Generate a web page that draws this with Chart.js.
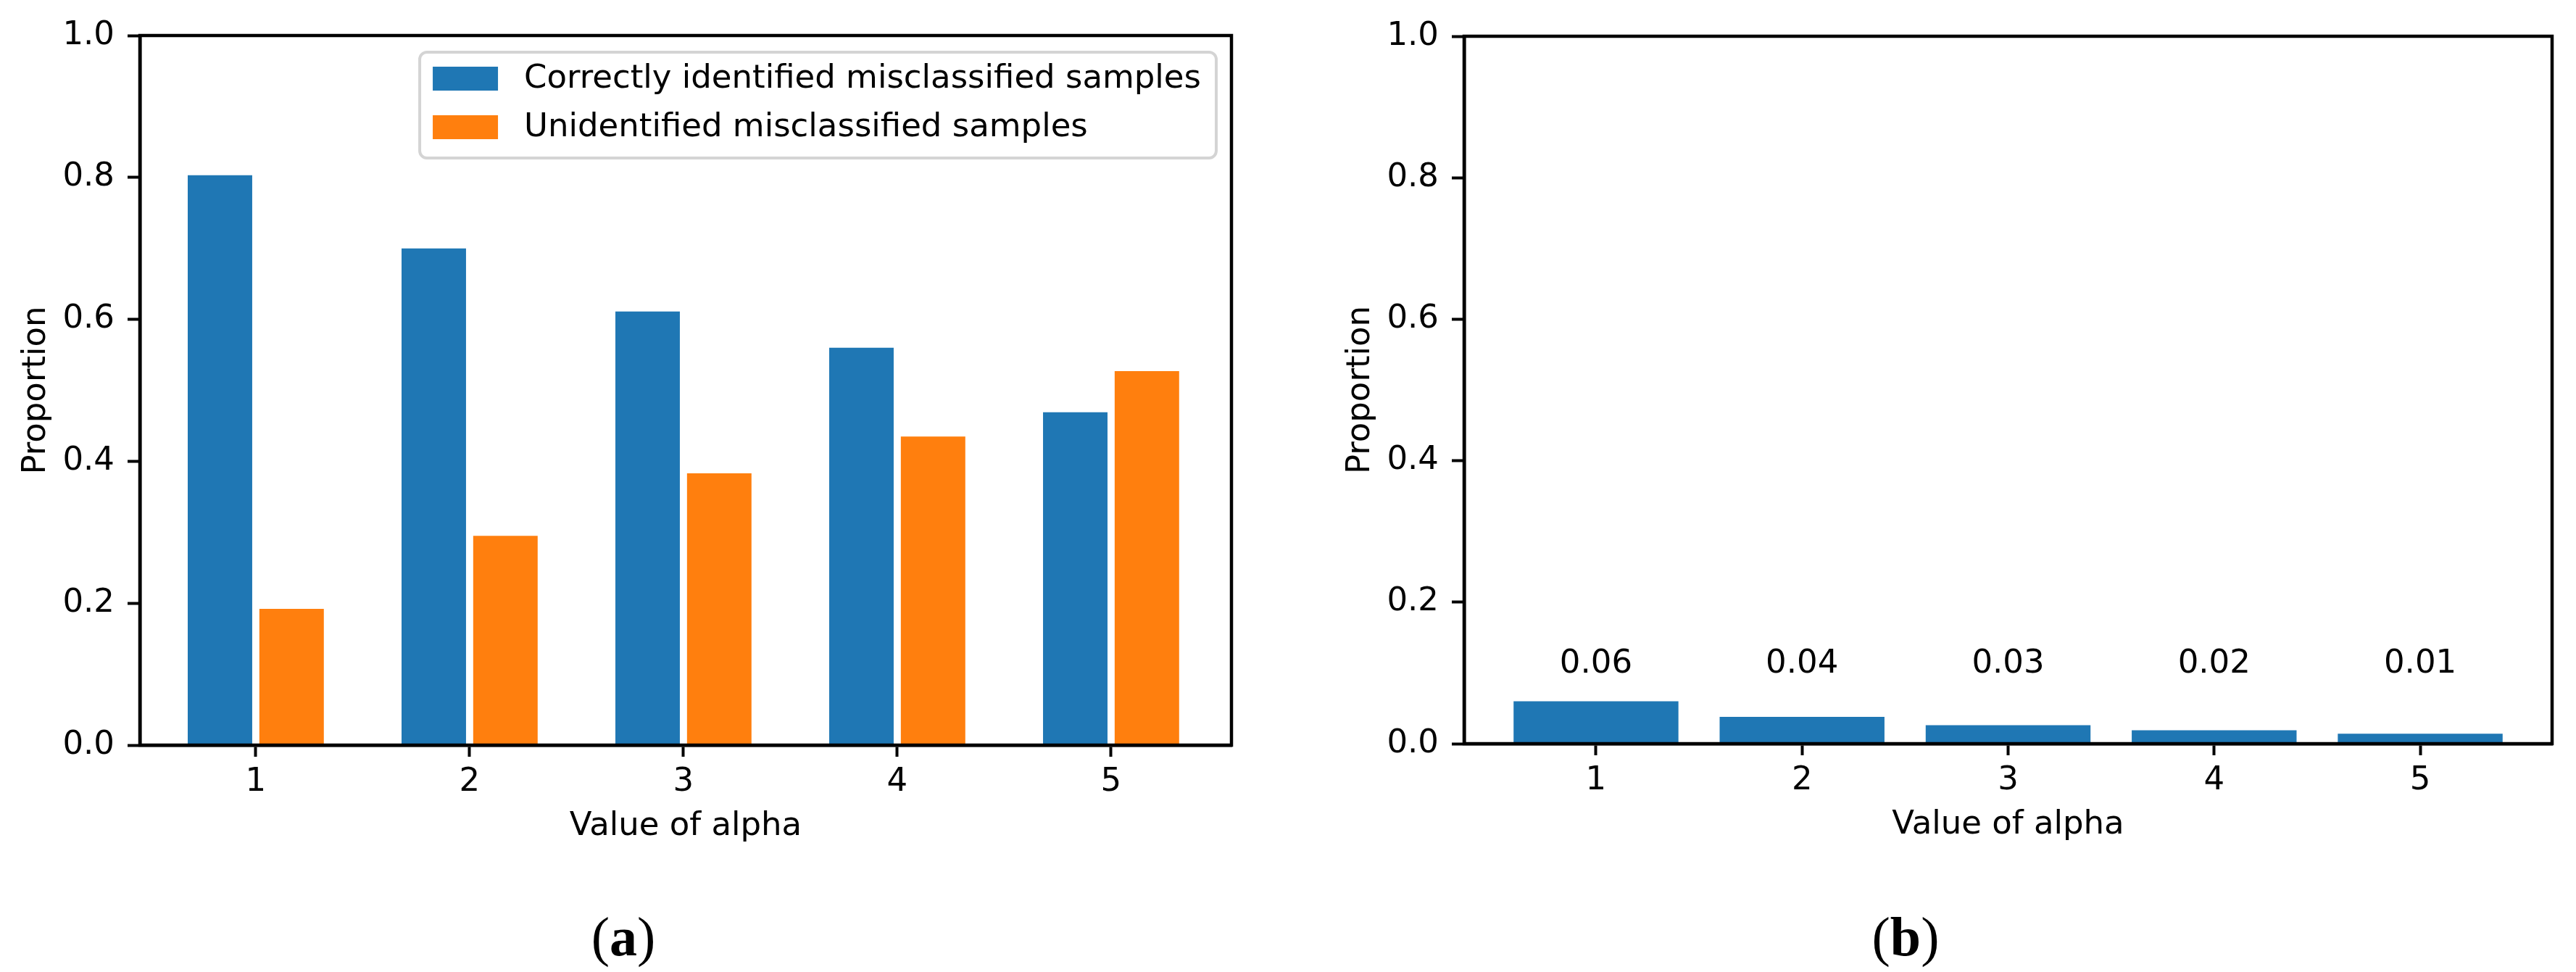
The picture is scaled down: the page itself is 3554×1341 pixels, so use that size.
<!DOCTYPE html>
<html>
<head>
<meta charset="utf-8">
<script src="https://cdn.jsdelivr.net/npm/chart.js@4.4.1/dist/chart.umd.min.js"></script>
<style>
  body { margin: 0; background: #fff; }
  #wrap { position: relative; width: 3554px; height: 1341px; overflow: hidden; background: #fff; }
  canvas { position: absolute; top: 0; }
  .cap { position: absolute; top: 1292px; transform: translate(-50%, -50%); font-family: "Liberation Serif", serif; font-size: 76px; color: #000; white-space: nowrap; }
</style>
</head>
<body>
<div id="wrap">
  <canvas id="chartA" width="1777" height="1341" style="left:0px;width:1777px;height:1341px"></canvas>
  <canvas id="chartB" width="1777" height="1341" style="left:1777px;width:1777px;height:1341px"></canvas>
  <div class="cap" style="left:860px">(<b>a</b>)</div>
  <div class="cap" style="left:2629px">(<b>b</b>)</div>
</div>
<script>
// values
const alphaValues = [1, 2, 3, 4, 5];
const correctlyIdentified = [0.803, 0.700, 0.611, 0.560, 0.469];
const unidentified = [0.192, 0.295, 0.383, 0.435, 0.527];
const rightProportion = [0.060, 0.038, 0.026, 0.019, 0.014];
const seriesNames = ["Correctly identified misclassified samples", "Unidentified misclassified samples"];
const seriesColors = ["#1f77b4", "#ff7f0e"];
const labelHeight = 0.1; // where the numbers sit in plot (b)

const tickFont = { family: "DejaVu Sans", size: 45 };
const black = "#000";

// x axis, only ticks at the alpha values
function xAxis(minX, maxX) {
    return {
        type: "linear",
        min: minX,
        max: maxX,
        offset: false,
        afterBuildTicks: function(s) { s.ticks = alphaValues.map(v => ({ value: v })); },
        afterFit: function(s) { s.height = 150; },
        ticks: { color: black, font: tickFont, padding: 8 },
        grid: { offset: false, drawOnChartArea: false, drawTicks: true, tickLength: 16, tickWidth: 4, tickColor: black },
        border: { display: true, color: black, width: 4.5 },
        title: { display: true, text: "Value of alpha", color: black, font: tickFont, padding: { top: 0, bottom: 11 } }
    };
}

function yAxis() {
    return {
        min: 0,
        max: 1,
        afterFit: function(s) { s.width = 193; },
        ticks: { stepSize: 0.2, color: black, font: tickFont, padding: 18, callback: v => v.toFixed(1) },
        grid: { drawOnChartArea: false, drawTicks: true, tickLength: 17, tickWidth: 4, tickColor: black },
        border: { display: true, color: black, width: 4.5 },
        title: { display: true, text: "Proportion", color: black, font: tickFont, padding: { top: 23, bottom: 0 } }
    };
}

// box round the plot like matplotlib spines
const spines = {
    id: "spines",
    afterDatasetsDraw(chart) {
        const ctx = chart.ctx, a = chart.chartArea;
        ctx.save();
        ctx.strokeStyle = black;
        ctx.lineWidth = 4.5;
        ctx.strokeRect(a.left, a.top, a.right - a.left, a.bottom - a.top);
        ctx.restore();
    }
};

// legend in the upper right corner with the grey rounded frame
const boxLegend = {
    id: "boxLegend",
    afterDraw(chart) {
        const ctx = chart.ctx, a = chart.chartArea;
        ctx.save();
        ctx.font = "45px 'DejaVu Sans'";
        let textW = 0;
        chart.data.datasets.forEach(d => { textW = Math.max(textW, ctx.measureText(d.label).width); });
        const right = a.right - 21, top = a.top + 23, h = 146;
        const left = right - 21 - textW - 36 - 90 - 18;
        const r = 10;
        ctx.beginPath();
        ctx.moveTo(left + r, top);
        ctx.arcTo(right, top, right, top + h, r);
        ctx.arcTo(right, top + h, left, top + h, r);
        ctx.arcTo(left, top + h, left, top, r);
        ctx.arcTo(left, top, right, top, r);
        ctx.closePath();
        ctx.fillStyle = "rgba(255,255,255,0.8)";
        ctx.fill();
        ctx.strokeStyle = "#d4d4d4";
        ctx.lineWidth = 4;
        ctx.stroke();
        chart.data.datasets.forEach((d, i) => {
            const sy = top + 20 + i * 67;
            ctx.fillStyle = d.backgroundColor;
            ctx.fillRect(left + 18, sy, 90, 33);
            ctx.fillStyle = black;
            ctx.textBaseline = "middle";
            ctx.textAlign = "left";
            ctx.fillText(d.label, left + 18 + 90 + 36, sy + 17);
        });
        ctx.restore();
    }
};

// numbers above the bars of plot (b)
const barNumbers = {
    id: "barNumbers",
    afterDatasetsDraw(chart) {
        const ctx = chart.ctx;
        const xs = chart.scales.x, ys = chart.scales.y;
        ctx.save();
        ctx.font = "45px 'DejaVu Sans'";
        ctx.fillStyle = black;
        ctx.textAlign = "center";
        ctx.textBaseline = "alphabetic";
        chart.data.datasets[0].data.forEach((v, i) => {
            ctx.fillText(v.toFixed(2), xs.getPixelForValue(alphaValues[i]), ys.getPixelForValue(labelHeight));
        });
        ctx.restore();
    }
};

let chartA = new Chart(document.getElementById("chartA").getContext("2d"), {
    type: "bar",
    data: {
        labels: alphaValues,
        datasets: [{
            label: seriesNames[0],
            data: correctlyIdentified,
            backgroundColor: seriesColors[0],
            categoryPercentage: 0.67,
            barPercentage: 0.9
        }, {
            label: seriesNames[1],
            data: unidentified,
            backgroundColor: seriesColors[1],
            categoryPercentage: 0.67,
            barPercentage: 0.9
        }]
    },
    options: {
        responsive: false,
        animation: false,
        devicePixelRatio: 1,
        layout: { padding: { left: 0, top: 49, right: 78, bottom: 163 } },
        scales: { x: xAxis(0.458, 5.563), y: yAxis() },
        plugins: { legend: { display: false }, tooltip: { enabled: false } }
    },
    plugins: [spines, boxLegend]
});

let chartB = new Chart(document.getElementById("chartB").getContext("2d"), {
    type: "bar",
    data: {
        labels: alphaValues,
        datasets: [{
            label: "Proportion",
            data: rightProportion,
            backgroundColor: seriesColors[0],
            categoryPercentage: 1,
            barPercentage: 0.8
        }]
    },
    options: {
        responsive: false,
        animation: false,
        devicePixelRatio: 1,
        layout: { padding: { left: 50, top: 50, right: 33, bottom: 165 } },
        scales: { x: xAxis(0.36, 5.64), y: yAxis() },
        plugins: { legend: { display: false }, tooltip: { enabled: false } }
    },
    plugins: [spines, barNumbers]
});
</script>
</body>
</html>
